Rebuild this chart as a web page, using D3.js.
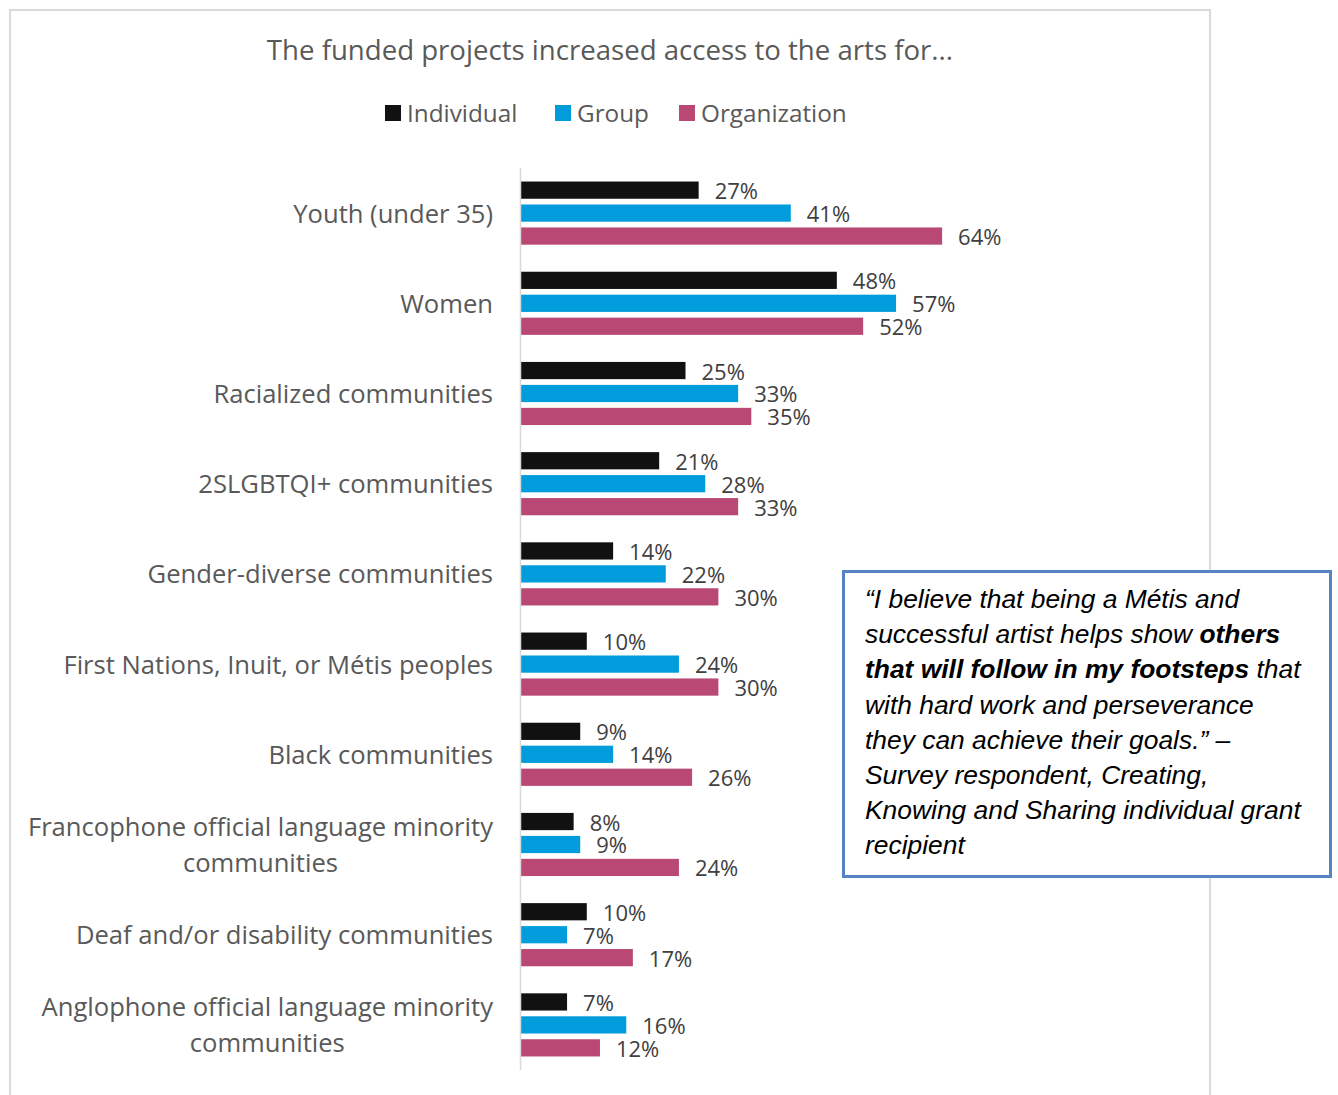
<!DOCTYPE html>
<html>
<head>
<meta charset="utf-8">
<script src="https://cdn.jsdelivr.net/npm/d3@7"></script>
<style>
  html, body { margin: 0; padding: 0; background: #fff; }
  svg { display: block; }
</style>
</head>
<body>
<svg id="chart" width="1338" height="1095"></svg>
<script>
// Share of funded projects reporting increased access, by community and grant type
const categories = [
  ["Youth (under 35)"],
  ["Women"],
  ["Racialized communities"],
  ["2SLGBTQI+ communities"],
  ["Gender-diverse communities"],
  ["First Nations, Inuit, or Métis peoples"],
  ["Black communities"],
  ["Francophone official language minority", "communities"],
  ["Deaf and/or disability communities"],
  ["Anglophone official language minority", "communities"]
];
const seriesNames = ["Individual", "Group", "Organization"];
const individual   = [27, 48, 25, 21, 14, 10, 9, 8, 10, 7];
const group        = [41, 57, 33, 28, 22, 24, 14, 9, 7, 16];
const organization = [64, 52, 35, 33, 30, 30, 26, 24, 17, 12];
const seriesColors = ["#111111", "#009cdc", "#b94875"];

const titleText = "The funded projects increased access to the arts for...";

// Quote lines; each line is a list of [text, bold] runs
const quoteLines = [
  [["“I believe that being a Métis and", false]],
  [["successful artist helps show ", false], ["others", true]],
  [["that will follow in my footsteps", true], [" that", false]],
  [["with hard work and perseverance", false]],
  [["they can achieve their goals.” –", false]],
  [["Survey respondent, Creating,", false]],
  [["Knowing and Sharing individual grant", false]],
  [["recipient", false]]
];

const values = [individual, group, organization];
const rows = categories.map((c, i) => ({ label: c, vals: values.map(v => v[i]) }));

const svg = d3.select("#chart");
const font = "'Open Sans', Lato, sans-serif";

// Chart frame
svg.append("rect")
  .attr("x", 10).attr("y", 10)
  .attr("width", 1200).attr("height", 1120)
  .attr("fill", "#fff")
  .attr("stroke", "#d9d9d9").attr("stroke-width", 2);

// Title
svg.append("text")
  .attr("x", 610).attr("y", 49)
  .attr("text-anchor", "middle")
  .attr("dominant-baseline", "central")
  .attr("font-family", font).attr("font-size", 27.6)
  .attr("fill", "#595959")
  .text(titleText);

// Legend
const legendX = [385, 555, 679];
const legend = svg.append("g");
seriesNames.forEach((name, i) => {
  legend.append("rect")
    .attr("x", legendX[i]).attr("y", 105)
    .attr("width", 16).attr("height", 16)
    .attr("fill", seriesColors[i]);
  legend.append("text")
    .attr("x", legendX[i] + 22).attr("y", 112)
    .attr("dominant-baseline", "central")
    .attr("font-family", font).attr("font-size", 24.3)
    .attr("fill", "#595959")
    .text(name);
});

// Scales
const x = d3.scaleLinear().domain([0, 100]).range([521, 1179]);
const y = d3.scaleBand()
  .domain(d3.range(categories.length))
  .range([168, 1070])
  .paddingInner(0.3).paddingOuter(0.15);
const ySub = d3.scaleBand()
  .domain(d3.range(seriesNames.length))
  .range([0, y.bandwidth()])
  .paddingInner(0.25).paddingOuter(0);

// Bars
const groups = svg.append("g").selectAll("g")
  .data(rows).join("g")
  .attr("transform", (d, i) => `translate(0,${y(i)})`);

groups.selectAll("rect")
  .data(d => d.vals.map((v, s) => ({ v, s })))
  .join("rect")
  .attr("x", x(0))
  .attr("y", d => ySub(d.s))
  .attr("width", d => x(d.v) - x(0))
  .attr("height", ySub.bandwidth())
  .attr("fill", d => seriesColors[d.s]);

// Value labels
groups.selectAll("text.val")
  .data(d => d.vals.map((v, s) => ({ v, s })))
  .join("text")
  .attr("class", "val")
  .attr("x", d => x(d.v) + 16)
  .attr("y", d => ySub(d.s) + ySub.bandwidth() / 2)
  .attr("dominant-baseline", "central")
  .attr("font-family", font).attr("font-size", 22)
  .attr("fill", "#404040")
  .text(d => d.v + "%");

// Vertical category axis line
svg.append("line")
  .attr("x1", x(0) - 0.5).attr("x2", x(0) - 0.5)
  .attr("y1", 168).attr("y2", 1070)
  .attr("stroke", "#d9d9d9").attr("stroke-width", 1.5);

// Category labels (multi-line labels are centred as a right-aligned block)
const labelRight = 493;
const lineGap = 36;
rows.forEach((r, i) => {
  const cy = y(i) + y.bandwidth() / 2;
  const n = r.label.length;
  const t = svg.append("text")
    .attr("font-family", font).attr("font-size", 25.6)
    .attr("fill", "#595959");
  if (n === 1) {
    t.attr("x", labelRight).attr("y", cy)
      .attr("text-anchor", "end")
      .attr("dominant-baseline", "central")
      .text(r.label[0]);
  } else {
    const spans = r.label.map((line, k) => t.append("tspan")
      .attr("y", cy + (k - (n - 1) / 2) * lineGap)
      .attr("dominant-baseline", "central")
      .text(line));
    const w = d3.max(spans, s => s.node().getComputedTextLength());
    t.attr("text-anchor", "middle");
    spans.forEach(s => s.attr("x", labelRight - w / 2));
  }
});

// Quote box
svg.append("rect")
  .attr("x", 843.5).attr("y", 571.5)
  .attr("width", 487).attr("height", 305)
  .attr("fill", "#fff")
  .attr("stroke", "#5584c4").attr("stroke-width", 3);

const quote = svg.append("text")
  .attr("font-family", "'Liberation Sans', Arial, sans-serif")
  .attr("font-size", 26.4)
  .attr("font-style", "italic")
  .attr("fill", "#000");
quoteLines.forEach((runs, k) => {
  runs.forEach((run, j) => {
    const ts = quote.append("tspan").text(run[0])
      .attr("font-weight", run[1] ? "bold" : "normal");
    if (j === 0) ts.attr("x", 865).attr("y", 608 + k * 35.2);
  });
});
</script>
</body>
</html>
